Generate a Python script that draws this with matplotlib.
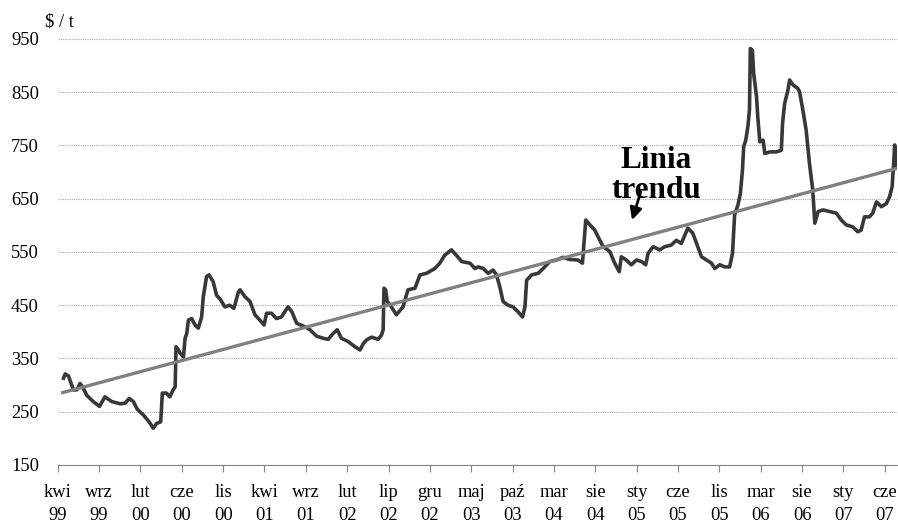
import matplotlib.pyplot as plt

plt.rcParams['font.family'] = ['Liberation Serif', 'DejaVu Serif']

# ==== dane ====
# x w jednostkach odstępu między etykietami osi (0 = kwi 99, 1 = wrz 99, ...)
price_x = [0.14, 0.18, 0.26, 0.31, 0.38, 0.46, 0.54, 0.60, 0.70, 0.86,
           1.01, 1.14, 1.31, 1.51, 1.63, 1.73, 1.83, 1.92, 2.07, 2.21,
           2.31, 2.39, 2.49, 2.53, 2.63, 2.71, 2.79, 2.84, 2.86, 2.92,
           2.96, 3.04, 3.08, 3.12, 3.16, 3.24, 3.32, 3.40, 3.48, 3.52,
           3.60, 3.66, 3.76, 3.84, 3.94, 4.04, 4.16, 4.26, 4.37, 4.41,
           4.53, 4.65, 4.77, 4.89, 4.99, 5.05, 5.17, 5.29, 5.41, 5.57,
           5.66, 5.78, 5.94, 6.10, 6.26, 6.42, 6.54, 6.66, 6.76, 6.86,
           7.02, 7.19, 7.31, 7.39, 7.47, 7.59, 7.75, 7.83, 7.87, 7.89,
           7.93, 7.97, 8.07, 8.19, 8.35, 8.47, 8.64, 8.76, 8.92, 9.12,
           9.24, 9.36, 9.52, 9.64, 9.77, 9.97, 10.09, 10.17, 10.29, 10.41,
           10.53, 10.61, 10.69, 10.77, 10.89, 11.01, 11.13, 11.24, 11.30, 11.34,
           11.46, 11.62, 11.74, 11.90, 12.06, 12.22, 12.38, 12.58, 12.69, 12.77,
           12.87, 12.99, 13.11, 13.19, 13.35, 13.47, 13.58, 13.63, 13.75, 13.87,
           14.00, 14.12, 14.22, 14.28, 14.40, 14.56, 14.68, 14.84, 14.96, 15.08,
           15.24, 15.36, 15.48, 15.57, 15.69, 15.81, 15.89, 16.01, 16.13, 16.25,
           16.32, 16.37, 16.45, 16.51, 16.56, 16.59, 16.64, 16.69, 16.73, 16.75,
           16.80, 16.83, 16.90, 16.93, 16.98, 17.06, 17.10, 17.22, 17.38, 17.50,
           17.53, 17.58, 17.66, 17.70, 17.78, 17.90, 17.94, 18.02, 18.10, 18.18,
           18.26, 18.31, 18.39, 18.51, 18.67, 18.83, 18.95, 19.07, 19.23, 19.35,
           19.43, 19.51, 19.63, 19.71, 19.80, 19.92, 20.04, 20.12, 20.18, 20.22,
           20.24, 20.26, 20.29]
price_y = [313, 321, 317, 306, 291, 291, 303, 297, 281, 269,
           260, 278, 269, 265, 266, 275, 269, 255, 244, 231,
           219, 228, 231, 285, 285, 278, 291, 297, 372, 366,
           360, 353, 388, 397, 422, 425, 413, 407, 428, 466,
           504, 507, 494, 469, 460, 447, 450, 444, 475, 479,
           466, 457, 432, 422, 413, 435, 435, 425, 428, 447,
           438, 416, 411, 404, 392, 388, 386, 397, 404, 388,
           382, 372, 366, 378, 385, 390, 386, 394, 404, 482,
           479, 457, 447, 432, 447, 479, 482, 507, 510, 519,
           529, 544, 554, 544, 532, 529, 519, 522, 519, 510,
           516, 507, 485, 457, 450, 447, 438, 428, 447, 497,
           507, 510, 519, 532, 535, 540, 536, 535, 529, 610,
           601, 591, 572, 560, 551, 529, 513, 541, 535, 526,
           535, 532, 526, 548, 560, 554, 560, 563, 572, 566,
           595, 585, 560, 541, 535, 529, 519, 526, 522, 522,
           548, 620, 638, 660, 704, 748, 760, 785, 817, 932,
           929, 886, 842, 804, 757, 760, 735, 738, 738, 741,
           792, 829, 854, 873, 864, 857, 851, 817, 779, 717,
           666, 604, 626, 629, 626, 623, 610, 601, 597, 588,
           591, 616, 616, 623, 644, 635, 641, 654, 673, 720,
           751, 742, 710]

trend_x = [0.12, 20.29]
trend_y = [286, 707]

tick_labels = ['kwi\n99', 'wrz\n99', 'lut\n00', 'cze\n00', 'lis\n00',
               'kwi\n01', 'wrz\n01', 'lut\n02', 'lip\n02', 'gru\n02',
               'maj\n03', 'paź\n03', 'mar\n04', 'sie\n04', 'sty\n05',
               'cze\n05', 'lis\n05', 'mar\n06', 'sie\n06', 'sty\n07',
               'cze\n07']
y_ticks = [150, 250, 350, 450, 550, 650, 750, 850, 950]

# ==== wykres ====
fig = plt.figure(figsize=(8.98, 5.22), dpi=100)
ax = fig.add_axes([0.0643, 0.1092, 0.9347, 0.8161])

ax.plot(price_x, price_y, color='#383838', lw=2.6, zorder=3)
ax.plot(trend_x, trend_y, color='#808080', lw=2.4, zorder=4)

ax.set_xlim(0, 20.30)
ax.set_ylim(150, 950)
ax.set_yticks(y_ticks)
ax.set_xticks(range(len(tick_labels)))
ax.set_xticklabels(tick_labels, linespacing=1.4)

ax.grid(axis='y', color='#a8a8a8', linestyle=(0, (1, 1)), lw=0.8)
ax.set_axisbelow(True)
for s in ['top', 'right', 'left']:
    ax.spines[s].set_visible(False)
ax.spines['bottom'].set_color('#868686')
ax.spines['bottom'].set_zorder(5)
ax.tick_params(axis='x', length=5, color='#868686', pad=9, labelsize=13.3)
ax.tick_params(axis='y', length=0, pad=13.5, labelsize=13.3)

fig.text(45 / 898, 1 - 27 / 522, r'\$ / t', fontsize=13.3, va='baseline')

# podpis linii trendu
ax.text(14.47, 708, 'Linia', fontsize=22.5, fontweight='bold', ha='center', va='baseline', zorder=6)
ax.text(14.47, 651, 'trendu', fontsize=22.5, fontweight='bold', ha='center', va='baseline', zorder=6)
ax.annotate('', xy=(13.87, 605), xytext=(14.12, 668),
            arrowprops=dict(arrowstyle='-|>', color='black', lw=2, mutation_scale=18), zorder=7)

fig.savefig('out.png', dpi=100)
